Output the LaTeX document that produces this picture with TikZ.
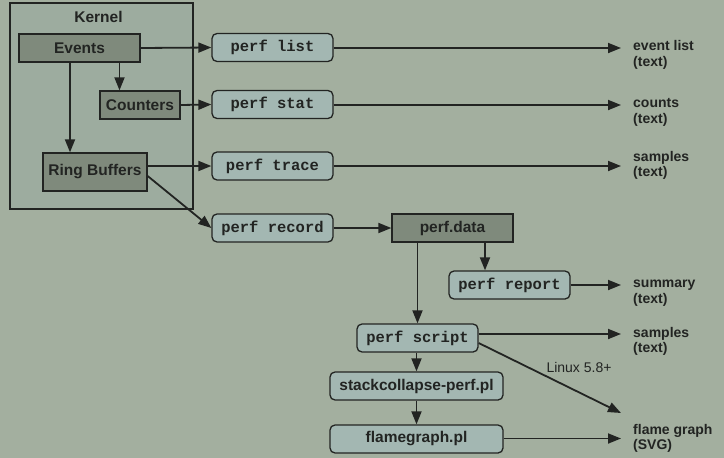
\documentclass[tikz,border=0pt]{standalone}
\usepackage{fontspec}
\setmainfont{Liberation Sans}
\setmonofont{Liberation Mono}
\usetikzlibrary{arrows.meta}

\definecolor{bgc}{RGB}{163,175,159}
\definecolor{kernc}{RGB}{157,172,159}
\definecolor{kdark}{RGB}{127,138,124}
\definecolor{cmdc}{RGB}{163,183,178}
\definecolor{linec}{RGB}{34,36,34}
\newcommand{\boxfont}{\fontsize{15.5}{17}\selectfont}
\newcommand{\outfont}{\fontsize{14}{15.5}\selectfont}

\begin{document}
\begin{tikzpicture}[x=1pt,y=-1pt,
	kbox/.style={draw=linec,line width=1.3pt,fill=kdark,text=linec,font=\boxfont\bfseries,minimum height=28pt,inner sep=0pt},
	cmdbox/.style={draw=linec,line width=1.3pt,fill=cmdc,text=linec,rounded corners=5pt,font=\boxfont\ttfamily\bfseries,minimum width=121pt,minimum height=28pt,inner sep=0pt},
	plbox/.style={cmdbox,font=\boxfont\bfseries,minimum width=173pt},
	outtext/.style={anchor=west,align=left,text=linec,font=\outfont\bfseries,inner sep=0pt},
	arr/.style={draw=linec,line width=1.8pt,-{Triangle[length=13pt,width=10pt]}}]
				\fill[bgc] (0,0) rectangle (724,458);
				\useasboundingbox (0,0) rectangle (724,458);
				\draw[linec,line width=1.3pt,fill=kernc] (10,3) rectangle (193,209);
				
				\path (98.5,17) node[text=linec,font=\boxfont\bfseries] (kernel) {Kernel};
				\path (79.5,48) node[kbox,minimum width=121pt] (events) {Events};
				\path (140,105) node[kbox,minimum width=80pt] (counters) {Counters};
				\path (95,172) node[kbox,minimum width=104pt,minimum height=38pt] (rbuf) {Ring Buffers};
				
				\path (272.5,47.5) node[cmdbox] (plist) {perf list};
				\path (272.5,104.5) node[cmdbox] (pstat) {perf stat};
				\path (272.5,166) node[cmdbox] (ptrace) {perf trace};
				\path (272.5,228) node[cmdbox] (precord) {perf record};
				\path (452.5,228) node[kbox,minimum width=121pt] (pdata) {perf.data};
				\path (509.5,285) node[cmdbox] (preport) {perf report};
				\path (417.5,338) node[cmdbox] (pscript) {perf script};
				\path (416.5,386) node[plbox] (stackc) {stackcollapse-perf.pl};
				\path (416.5,439) node[plbox] (flameg) {flamegraph.pl};
				
				\path (633,55) node[outtext] (tlist) {event list\\(text)};
				\path (633,112.5) node[outtext] (tstat) {counts\\(text)};
				\path (633,165.5) node[outtext] (ttrace) {samples\\(text)};
				\path (633,293) node[outtext] (treport) {summary\\(text)};
				\path (633,341.5) node[outtext] (tscript) {samples\\(text)};
				\path (633,438.5) node[outtext] (tflame) {flame graph\\(SVG)};
				\path (579,367) node[text=linec,font=\outfont,inner sep=0pt] (linux) {Linux 5.8+};
				
				\coordinate (olist) at (621,48);
				\coordinate (ostat) at (621,105);
				\coordinate (otrace) at (621,166);
				\coordinate (oreport) at (621,285);
				\coordinate (oscript) at (621,334);
				\coordinate (osvg) at (621,413);
				\coordinate (oflame) at (621,438.5);
				
				\draw[arr] (events.east) -- (plist.west);
				\draw[arr] ([xshift=40pt]events.south) -- ([xshift=40pt]events.south |- counters.north);
				\draw[arr] ([xshift=-9.5pt]events.south) -- ([xshift=-9.5pt]events.south |- rbuf.north);
				\draw[arr] (counters.east) -- (pstat.west);
				\draw[arr] (rbuf.east |- ptrace.west) -- (ptrace.west);
				\draw[arr] ([yshift=-4pt]rbuf.east) -- (precord.west);
				\draw[arr] (precord.east) -- (pdata.west);
				\draw[arr] ([xshift=32.5pt]pdata.south) -- ([xshift=32.5pt]pdata.south |- preport.north);
				\draw[arr] (pdata.south -| pscript.north) -- (pscript.north);
				\draw[arr] (pscript.south -| stackc.north) -- (stackc.north);
				\draw[arr] (stackc.south) -- (flameg.north);
				
				\draw[arr] (plist.east |- olist) -- (olist);
				\draw[arr] (pstat.east |- ostat) -- (ostat);
				\draw[arr] (ptrace.east |- otrace) -- (otrace);
				\draw[arr] (preport.east |- oreport) -- (oreport);
				\draw[arr] (pscript.east |- oscript) -- (oscript);
				\draw[arr] ([yshift=-5pt]pscript.east) -- (osvg);
				\draw[arr] (flameg.east |- oflame) -- (oflame);
				\end{tikzpicture}
\end{document}
